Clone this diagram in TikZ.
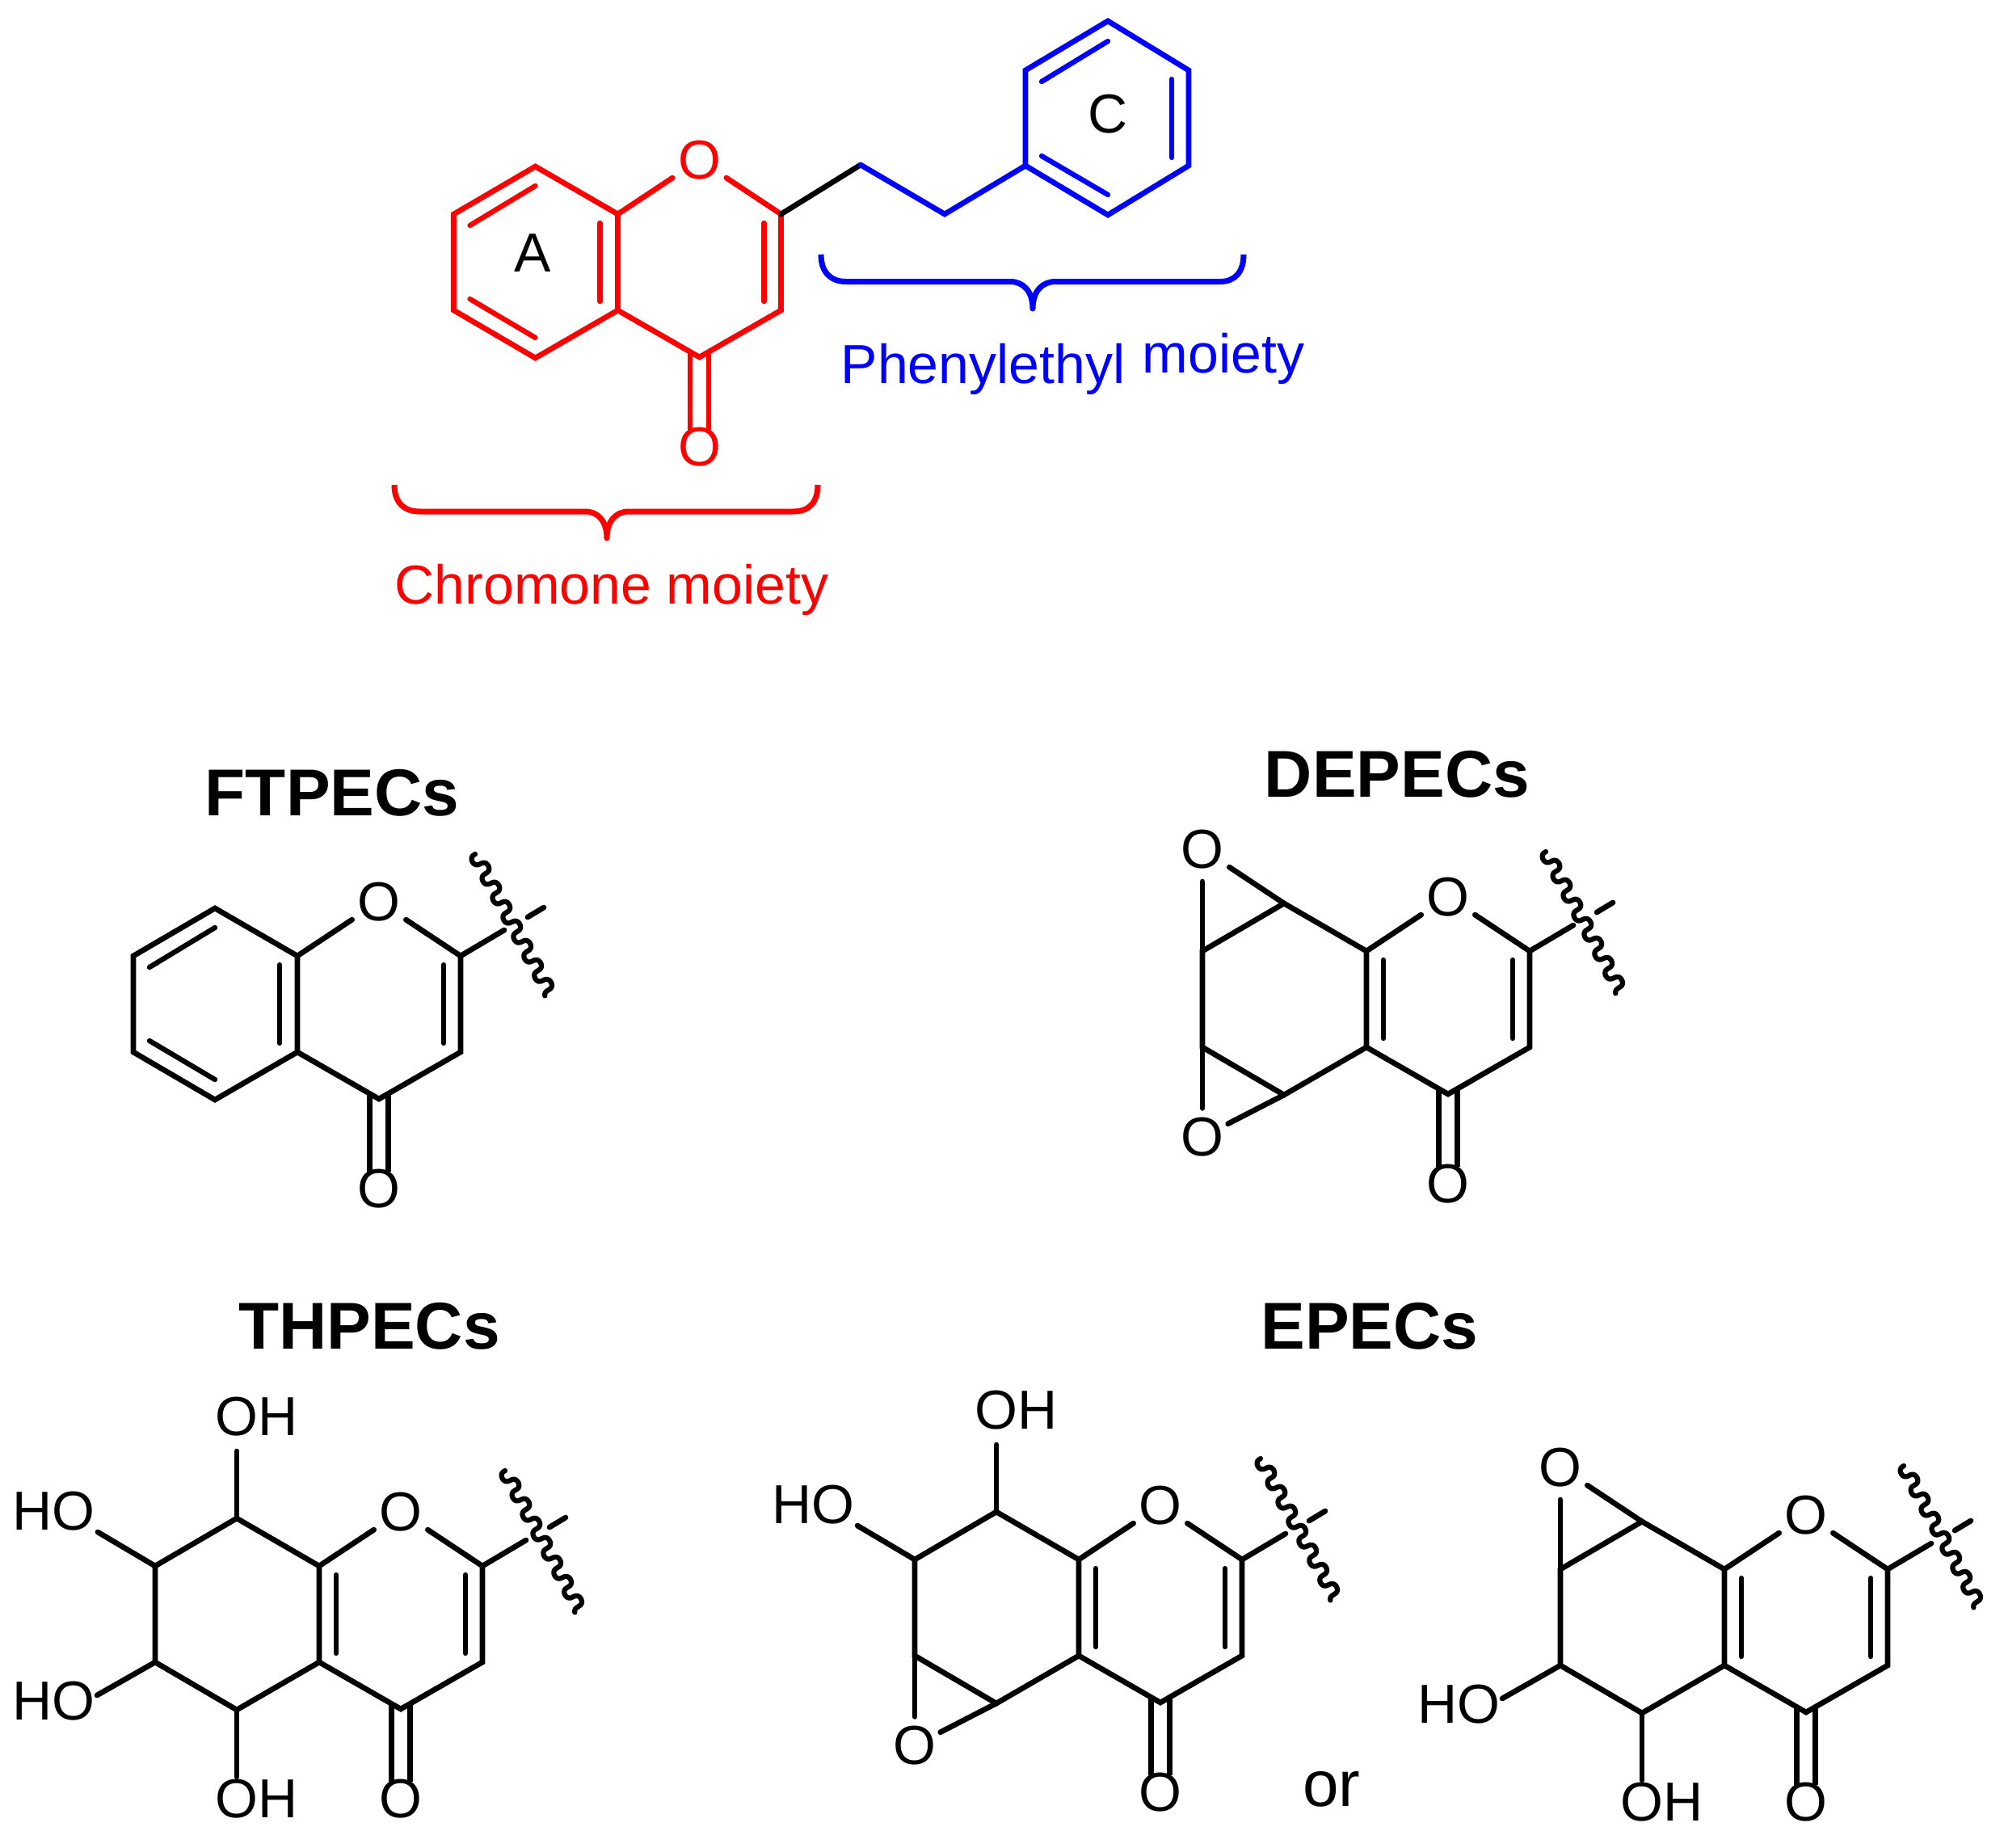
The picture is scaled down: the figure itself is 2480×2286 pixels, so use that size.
\documentclass[tikz,border=0pt]{standalone}
\usepackage{fontspec}
\setmainfont{Liberation Sans}
\tikzset{
  bond/.style={line width=6.7pt,line cap=round,line join=miter},
  inner bond/.style={line width=6.3pt,line cap=round},
  wavy bond/.style={line width=6.2pt,line cap=round,line join=round},
  brace line/.style={line width=7pt,line join=round},
  atom/.style={inner sep=0pt,outer sep=0pt,font=\fontsize{68}{68}\selectfont},
  ringO/.style={atom,circle,minimum size=80pt},
  lowO/.style={atom,circle,minimum size=56pt},
  title/.style={inner sep=0pt,anchor=base,font=\fontsize{82}{82}\selectfont\bfseries},
  label/.style={inner sep=0pt,anchor=base,font=\fontsize{68}{68}\selectfont},
  group/.style={inner sep=0pt,anchor=base west,font=\fontsize{68}{68}\selectfont},
}
% pyranone ring with C=O; origin is C8a
\newcommand\chromcore[4][]{%
  \begin{scope}[shift={(#3,#4)},#1]
    \coordinate (#2c8a) at (0,0);
    \coordinate (#2c4a) at (0,119);
    \coordinate (#2c2) at (202,0);
    \coordinate (#2c3) at (202,119);
    \coordinate (#2c4) at (101,177);
    \coordinate (#2c8) at (-102,-59);
    \coordinate (#2c7) at (-203,0);
    \coordinate (#2c6) at (-203,119);
    \coordinate (#2c5) at (-102,178);
    \node[ringO] (#2O) at (101,-67) {O};
    \node[atom] (#2Ox) at (101,288) {O};
    \draw[bond] (#2O) -- (#2c8a) -- (#2c4a) -- (#2c4) -- (#2c3) -- (#2c2) -- (#2O);
    \draw[bond,line cap=butt] (89.5,171) -- ([xshift=-11.5pt,yshift=-3pt]#2Ox.north);
    \draw[bond,line cap=butt] (112.5,171) -- ([xshift=11.5pt,yshift=-3pt]#2Ox.north);
    \draw[inner bond] (181,11) -- (181,108);
  \end{scope}}
\newcommand\chromring[2][]{%
  \draw[bond,#1] (#2c8a) -- (#2c8) -- (#2c7) -- (#2c6) -- (#2c5) -- (#2c4a);}
% aromatic benzo ring inner lines
\newcommand\benzolines[2][]{%
  \begin{scope}[shift={(#2c8a)},#1]
    \draw[inner bond] (-22,11) -- (-22,108);
    \draw[inner bond] (-183,14) -- (-102,-35);
    \draw[inner bond] (-183,105) -- (-102,153);
  \end{scope}}
\newcommand\fusedline[1]{%
  \begin{scope}[shift={(#1c8a)}]
    \draw[inner bond] (21,11) -- (21,108);
  \end{scope}}
\newcommand\chromtail[3]{%
  \begin{scope}[shift={(#1c2)}]
    \coordinate (#1bondend) at (54,-32);
    \coordinate (#1ticka) at (83,-48);
    \coordinate (#1tickb) at (103,-60);
    \coordinate (#1wavea) at (#2,#3);
    \draw[bond] (#1c2) -- (#1bondend);
    \draw[bond] (#1ticka) -- (#1tickb);
  \end{scope}
  \begin{scope}[shift={(#1wavea)},rotate=-61.7]
    \draw[wavy bond] plot[domain=0:2592,samples=220,variable=\t] ({\t/360*27.3-2*sin(2*\t)},{7.5*sin(\t)});
  \end{scope}}
\newcommand\epoxup[1]{%
  \begin{scope}[shift={(#1c8a)}]
    \node[ringO] (#1Oe) at (-203,-126) {O};
    \draw[bond] (#1c7) -- (#1Oe);
    \draw[bond] (#1c8) -- (#1Oe);
  \end{scope}}
\newcommand\epoxdown[1]{%
  \begin{scope}[shift={(#1c8a)}]
    \node[lowO] (#1Of) at (-203,230) {O};
    \draw[bond] (#1c6) -- (#1Of);
    \draw[bond] (#1c5) -- (#1Of);
  \end{scope}}
\newcommand\ohtop[1]{%
  \begin{scope}[shift={(#1c8a)}]
    \node[group] (#1oha) at (-129,-162) {OH};
    \coordinate (#1ohaend) at (-102,-142);
    \draw[bond] (#1c8) -- (#1ohaend);
  \end{scope}}
\newcommand\houpper[1]{%
  \begin{scope}[shift={(#1c8a)}]
    \node[group] (#1ohb) at (-380,-45) {HO};
    \coordinate (#1ohbend) at (-274,-42);
    \draw[bond] (#1c7) -- (#1ohbend);
  \end{scope}}
\newcommand\holower[1]{%
  \begin{scope}[shift={(#1c8a)}]
    \node[group] (#1ohc) at (-380,190) {HO};
    \coordinate (#1ohcend) at (-275,160);
    \draw[bond] (#1c6) -- (#1ohcend);
  \end{scope}}
\newcommand\ohbottom[1]{%
  \begin{scope}[shift={(#1c8a)}]
    \node[group] (#1ohd) at (-129,311) {OH};
    \coordinate (#1ohdend) at (-102,261);
    \draw[bond] (#1c5) -- (#1ohdend);
  \end{scope}}
\begin{document}
\begin{tikzpicture}[x=1pt,y=-1pt]
\useasboundingbox (0,0) rectangle (2480,2286);
\fill[white] (0,0) rectangle (2480,2286);

% ---- top molecule
\chromcore[color=red]{t}{764.5}{265}
\chromring[red]{t}
\benzolines[color=red]{t}
\coordinate (ch1) at (1065,204);
\coordinate (ch2) at (1169,265);
\coordinate (ph1) at (1269,205);
\coordinate (ph2) at (1269,87);
\coordinate (ph3) at (1371,26);
\coordinate (ph4) at (1471,87);
\coordinate (ph5) at (1471,205);
\coordinate (ph6) at (1371,266);
\draw[bond] (tc2) -- (ch1);
\draw[bond,blue] (ch1) -- (ch2) -- (ph1);
\draw[bond,blue] (ph1) -- (ph2) -- (ph3) -- (ph4) -- (ph5) -- (ph6) -- cycle;
\draw[inner bond,blue] (1289,101) -- (1371,51);
\draw[inner bond,blue] (1450,98) -- (1450,195);
\draw[inner bond,blue] (1289,193) -- (1371,241);
\node[label] (labA) at (659,336) {A};
\node[label] (labC) at (1371,164) {C};

% braces
\draw[brace line,red] (488,600) .. controls (488,622) and (500,633) .. (519,633) -- (724,633)
  .. controls (740,633) and (751,645) .. (751,666) .. controls (751,645) and (762,633) .. (778,633)
  -- (982,633) .. controls (1001,633) and (1012,622) .. (1012,600);
\draw[brace line,blue] (1016,315) .. controls (1016,337) and (1028,348.5) .. (1047,348.5) -- (1250,348.5)
  .. controls (1266,348.5) and (1278,360) .. (1278,382) .. controls (1278,360) and (1290,348.5) .. (1306,348.5)
  -- (1510,348.5) .. controls (1528,348.5) and (1539,337) .. (1539,315);
\node[label,red] (chromlab) at (757,747) {Chromone moiety};
\node[label,blue] (phlab) at (1216.5,474) {Phenylethyl};
\node[label,blue] (molab) at (1514,461) {moiety};

% ---- FTPECs
\node[title] (tFT) at (411,1009) {FTPECs};
\chromcore{f}{368}{1183}
\chromring{f}
\benzolines{f}
\chromtail{f}{18}{-126}

% ---- DEPECs
\node[title] (tDE) at (1729,986) {DEPECs};
\chromcore{d}{1691}{1177}
\chromring{d}
\fusedline{d}
\epoxup{d}
\epoxdown{d}
\chromtail{d}{20}{-123}

% ---- THPECs
\node[title] (tTH) at (457,1669) {THPECs};
\chromcore{h}{395}{1938}
\chromring{h}
\fusedline{h}
\ohtop{h}
\houpper{h}
\holower{h}
\ohbottom{h}
\chromtail{h}{28}{-118}

% ---- EPECs
\node[title] (tEP) at (1695,1669) {EPECs};
\chromcore{e}{1335}{1930}
\chromring{e}
\fusedline{e}
\ohtop{e}
\houpper{e}
\epoxdown{e}
\chromtail{e}{23}{-125}

\node[label,font=\fontsize{80}{80}\selectfont] (orlab) at (1648,2235) {or};

\chromcore{g}{2134}{1942}
\chromring{g}
\fusedline{g}
\epoxup{g}
\holower{g}
\ohbottom{g}
\chromtail{g}{20}{-128}
\end{tikzpicture}
\end{document}
